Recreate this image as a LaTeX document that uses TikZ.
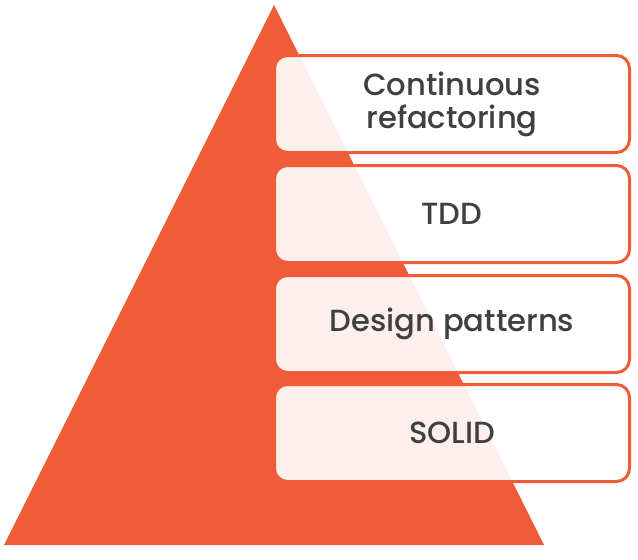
\documentclass[tikz,border=0pt]{standalone}
\usepackage{fontspec}
\setmainfont{Poppins Medium}
\definecolor{psorange}{HTML}{F15C38}
\definecolor{pstext}{HTML}{404040}
\begin{document}
\begin{tikzpicture}[x=1pt,y=-1pt,
  layer/.style={draw=psorange, line width=3pt, fill=white, fill opacity=0.9, text opacity=1,
    rounded corners=13pt, minimum width=355pt, minimum height=97pt, anchor=north west,
    inner sep=0pt, outer sep=0pt, text=pstext, align=center, font=\fontsize{30.6}{33}\selectfont}]
\useasboundingbox (0,0) rectangle (638,560);
\fill[psorange] (274,5) coordinate (apex) -- (544,545) coordinate (br) -- (4,545) coordinate (bl) -- cycle;
\node[layer] (cr) at (274.5,55.5) {\raisebox{-3pt}{Continuous}\\\raisebox{-3pt}{refactoring}};
\node[layer] (tdd) at (274.5,165.5) {TDD};
\node[layer] (dp) at (274.5,275.5) {Design patterns};
\node[layer] (solid) at (274.5,384.5) {SOLID};
\end{tikzpicture}
\end{document}
